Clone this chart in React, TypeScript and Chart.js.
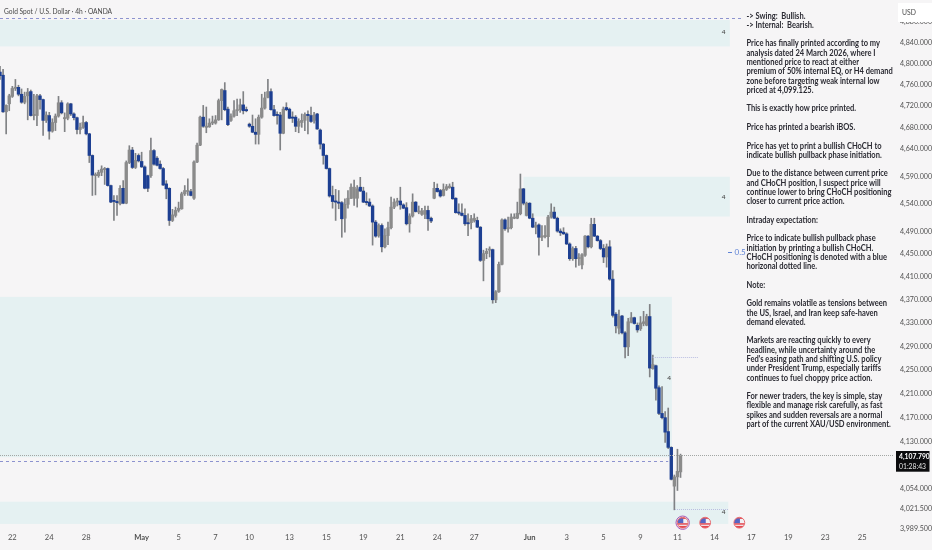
import React, { useEffect, useRef } from "react";
import { Chart, registerables } from "chart.js";

Chart.register(...registerables);

const open = [4784,4778,4709,4724,4738,4753,4755,4742,4727,4739,4747,4702,4702,4739,4732,4693,4702,4673,4689,4701,4726,4696,4697,4724,4705,4698,4676,4680,4689,4668,4628,4591,4591,4597,4602,4604,4573,4545,4544,4540,4568,4541,4615,4638,4606,4628,4617,4607,4591,4591,4637,4623,4612,4604,4576,4568,4510,4519,4528,4531,4558,4562,4562,4550,4616,4647,4699,4680,4681,4688,4688,4694,4730,4749,4714,4693,4701,4711,4713,4722,4713,4686,4682,4671,4667,4699,4716,4736,4747,4713,4703,4703,4669,4717,4714,4698,4699,4682,4689,4693,4704,4702,4693,4705,4675,4649,4628,4604,4555,4544,4543,4542,4514,4539,4550,4550,4550,4570,4563,4544,4543,4536,4507,4483,4501,4463,4483,4497,4534,4543,4545,4538,4533,4504,4518,4543,4525,4521,4521,4528,4514,4550,4568,4564,4555,4566,4569,4570,4550,4525,4523,4519,4506,4506,4510,4510,4498,4439,4451,4457,4458,4370,4384,4432,4511,4495,4497,4514,4514,4522,4567,4519,4541,4514,4498,4502,4480,4481,4481,4516,4525,4514,4491,4489,4486,4468,4442,4460,4442,4431,4448,4482,4463,4503,4482,4474,4460,4445,4463,4406,4345,4321,4342,4313,4289,4331,4339,4326,4320,4329,4326,4341,4252,4257,4220,4177,4170,4147,4121,4058,4073,4081];
const high = [4795,4789,4722,4742,4757,4770,4759,4752,4746,4753,4750,4742,4742,4742,4733,4709,4708,4696,4705,4738,4730,4707,4726,4725,4707,4699,4688,4701,4691,4669,4629,4596,4601,4609,4606,4605,4574,4555,4555,4573,4582,4618,4646,4643,4632,4631,4634,4609,4592,4660,4639,4626,4618,4606,4582,4569,4530,4534,4543,4561,4573,4585,4566,4618,4651,4701,4721,4718,4696,4701,4702,4733,4752,4764,4718,4705,4730,4733,4733,4747,4718,4688,4703,4696,4703,4742,4746,4770,4752,4721,4709,4708,4718,4726,4716,4709,4702,4696,4705,4707,4711,4718,4708,4706,4677,4650,4629,4605,4572,4566,4564,4544,4549,4564,4576,4583,4573,4588,4570,4560,4549,4538,4510,4504,4504,4495,4507,4552,4549,4550,4570,4540,4542,4522,4558,4544,4536,4532,4536,4536,4516,4579,4576,4566,4576,4575,4576,4579,4551,4540,4540,4531,4522,4519,4522,4516,4499,4457,4460,4463,4459,4386,4436,4513,4513,4516,4522,4522,4543,4594,4568,4543,4542,4522,4507,4504,4501,4501,4519,4540,4534,4516,4495,4497,4488,4470,4463,4464,4451,4451,4483,4483,4514,4514,4483,4476,4467,4468,4474,4421,4348,4352,4343,4315,4338,4348,4340,4330,4341,4350,4345,4362,4275,4258,4223,4222,4180,4186,4122,4076,4118,4110];
const low = [4770,4708,4668,4711,4736,4749,4739,4725,4724,4694,4701,4694,4683,4714,4665,4689,4658,4671,4674,4699,4705,4672,4694,4702,4694,4668,4668,4678,4666,4615,4555,4556,4588,4591,4575,4572,4542,4510,4519,4538,4540,4540,4613,4604,4604,4616,4606,4567,4562,4588,4610,4609,4603,4573,4549,4501,4508,4516,4525,4530,4555,4555,4554,4548,4615,4646,4680,4670,4680,4685,4686,4693,4694,4711,4683,4691,4699,4702,4708,4705,4709,4680,4670,4649,4649,4697,4714,4735,4712,4701,4686,4638,4668,4711,4696,4689,4672,4670,4680,4674,4668,4689,4688,4676,4640,4612,4603,4552,4532,4510,4531,4480,4489,4532,4549,4537,4534,4562,4542,4538,4535,4466,4480,4480,4454,4461,4467,4495,4531,4536,4530,4531,4502,4489,4516,4525,4522,4519,4513,4492,4506,4549,4561,4552,4554,4564,4568,4548,4523,4520,4518,4501,4483,4495,4507,4497,4437,4403,4442,4445,4364,4365,4383,4431,4492,4489,4495,4513,4513,4520,4538,4518,4513,4497,4486,4448,4474,4479,4463,4514,4513,4489,4483,4485,4467,4439,4439,4427,4430,4424,4446,4461,4461,4481,4473,4458,4435,4427,4404,4340,4313,4311,4311,4270,4274,4330,4328,4314,4317,4325,4325,4238,4251,4199,4175,4168,4129,4119,4068,4020,4051,4072];
const close = [4777,4709,4721,4739,4753,4755,4742,4727,4738,4746,4702,4703,4739,4732,4693,4703,4673,4689,4701,4726,4707,4697,4724,4705,4698,4676,4680,4689,4668,4628,4592,4593,4597,4603,4604,4573,4543,4544,4542,4568,4541,4615,4638,4606,4619,4618,4607,4568,4568,4637,4612,4610,4604,4574,4567,4510,4520,4528,4532,4558,4564,4564,4555,4616,4647,4699,4682,4682,4688,4689,4694,4730,4751,4713,4685,4701,4711,4713,4722,4711,4711,4682,4671,4667,4699,4716,4735,4747,4713,4702,4702,4669,4714,4713,4697,4697,4682,4691,4693,4704,4702,4691,4703,4677,4649,4628,4604,4554,4544,4543,4541,4513,4539,4550,4570,4570,4567,4563,4543,4542,4536,4507,4482,4501,4463,4483,4497,4534,4543,4545,4538,4532,4504,4518,4543,4526,4527,4527,4528,4513,4509,4568,4562,4554,4566,4571,4572,4549,4524,4523,4519,4504,4504,4513,4514,4498,4439,4451,4455,4458,4370,4384,4432,4511,4495,4497,4516,4516,4523,4567,4541,4541,4514,4498,4501,4480,4482,4483,4516,4525,4514,4491,4488,4486,4468,4442,4460,4442,4444,4449,4482,4463,4503,4482,4474,4460,4445,4463,4406,4343,4325,4341,4313,4289,4332,4339,4329,4318,4330,4332,4341,4253,4259,4219,4177,4170,4146,4121,4069,4073,4082,4107.79];

const slotCount = 291;
const tickIndexes = [4,16,28,46,58,70,81,94,106,118,130,142,154,172,184,196,208,220,232,244,256,268,280];
const tickNames = ["22","24","28","May","5","7","10","13","15","19","21","24","27","Jun","3","5","9","11","14","17","19","23","25"];
const priceTicks = [4880,4840,4800,4760,4720,4680,4640,4590,4540,4490,4450,4410,4370,4330,4290,4250,4210,4170,4130,4054,4021.5,3989.5];

const zoneStart = [0,170,0,0];
const zoneEnd = [237,237,218.2,236.5];
const zoneTop = [4884,4589,4375,4033];
const zoneBottom = [4833,4517,4105,3997.5];
const zoneMark = ["4","4","4","4"];
const markAt = [235,235,217.3,235];
const markPrice = [4861,4552,4236,4016];
const eventIdx = [221.7,229,240.1];

const lastPrice = 4107.79;
const countdown = "01:28:43";
const dashedPrices = [4888,4099.125];
const dashedEnd = [241,217];
const title = "Gold Spot / U.S. Dollar · 4h · OANDA";
const noteLines = [
  "-> Swing:  Bullish.","-> Internal:  Bearish.","",
  "Price has finally printed according to my","analysis dated 24 March 2026, where I","mentioned price to react at either","premium of 50% internal EQ, or H4 demand","zone before targeting weak internal low","priced at 4,099.125.","",
  "This is exactly how price printed.","",
  "Price has printed a bearish iBOS.","",
  "Price has yet to print a bullish CHoCH to","indicate bullish pullback phase initiation.","",
  "Due to the distance between current price","and CHoCH position, I suspect price will","continue lower to bring CHoCH positioning","closer to current price action.","",
  "Intraday expectation:","",
  "Price to indicate bullish pullback phase","initiation by printing a bullish CHoCH.","CHoCH positioning is denoted with a blue","horizonal dotted line.","",
  "Note:","",
  "Gold remains volatile as tensions between","the US, Israel, and Iran keep safe-haven","demand elevated.","",
  "Markets are reacting quickly to every","headline, while uncertainty around the","Fed's easing path and shifting U.S. policy","under President Trump, especially tariffs","continues to fuel choppy price action.","",
  "For newer traders, the key is simple, stay","flexible and manage risk carefully, as fast","spikes and sudden reversals are a normal","part of the current XAU/USD environment.",
];

const BLUE = "#1d3f92";
const GREY = "#8b8b8b";
const WICK = "#808285";
const BG = "#f6f5f6";
const ZONE = "#e5f1f2";
const labels = Array.from({ length: slotCount }, (_, i) => String(i));
const fmt = (v: number) => v.toLocaleString("en-US", { minimumFractionDigits: 3, maximumFractionDigits: 3 });

function squeezed(ctx: any, text: string, px: number, py: number, sx: number) {
  ctx.save();
  ctx.translate(px, py);
  ctx.scale(sx, 1);
  ctx.fillText(text, 0, 0);
  ctx.restore();
}

const zonesPlugin = {
  id: "zones",
  beforeDatasetsDraw(chart: any) {
    const { ctx, scales: { x, y } } = chart;
    ctx.save();
    ctx.fillStyle = ZONE;
    zoneStart.forEach((s, i) => {
      const l = x.getPixelForValue(s), r = x.getPixelForValue(zoneEnd[i]);
      const t = y.getPixelForValue(zoneTop[i]), b = y.getPixelForValue(zoneBottom[i]);
      ctx.fillRect(l, t, r - l, b - t);
    });
    ctx.restore();
  },
};

const overlayPlugin = {
  id: "overlay",
  afterDraw(chart: any) {
    const { ctx, scales: { x, y }, chartArea } = chart;
    ctx.save();
    // level lines
    ctx.lineWidth = 1;
    ctx.strokeStyle = "#8d93cf";
    ctx.setLineDash([3, 3]);
    dashedPrices.forEach((p, i) => {
      const py = Math.round(y.getPixelForValue(p)) + 0.5;
      ctx.beginPath(); ctx.moveTo(0, py); ctx.lineTo(x.getPixelForValue(dashedEnd[i]), py); ctx.stroke();
    });
    ctx.strokeStyle = "#a3a6a4";
    ctx.setLineDash([1, 1]);
    const ly = Math.round(y.getPixelForValue(lastPrice)) + 0.5;
    ctx.beginPath(); ctx.moveTo(0, ly); ctx.lineTo(chartArea.right, ly); ctx.stroke();
    ctx.strokeStyle = "#b9bde0";
    const cy = Math.round(y.getPixelForValue(4272)) + 0.5;
    ctx.beginPath(); ctx.moveTo(x.getPixelForValue(212), cy); ctx.lineTo(x.getPixelForValue(226.7), cy); ctx.stroke();
    const by = Math.round(y.getPixelForValue(4021.7)) + 0.5;
    ctx.beginPath(); ctx.moveTo(x.getPixelForValue(219.2), by); ctx.lineTo(x.getPixelForValue(236.5), by); ctx.stroke();
    ctx.setLineDash([]);

    // zone marks
    ctx.font = "600 6.5px Lato";
    ctx.fillStyle = "#4b4b4b";
    ctx.textAlign = "center";
    ctx.textBaseline = "middle";
    zoneMark.forEach((m, i) => ctx.fillText(m, x.getPixelForValue(markAt[i]), y.getPixelForValue(markPrice[i])));

    // 0.5 level tag
    ctx.fillStyle = "#5f83d6";
    ctx.font = "8px Lato";
    ctx.textAlign = "left";
    ctx.fillText("0.5", 734.5, 252);
    ctx.fillRect(728, 252, 4, 1);

    // title
    ctx.font = "8px Lato";
    ctx.fillStyle = "#474747";
    squeezed(ctx, title, 4, 11, 0.83);

    // note text
    ctx.font = "bold 9px Lato";
    ctx.fillStyle = "#2b2b33";
    noteLines.forEach((line, i) => {
      if (line) squeezed(ctx, line, 746.5, 15.7 + i * 9.28, 0.837);
    });

    // event markers
    eventIdx.forEach((idx, i) => {
      const px = x.getPixelForValue(idx), py = 522.7, r = 5.4;
      if (i === 0) {
        ctx.beginPath(); ctx.arc(px, py, r + 1.3, 0, Math.PI * 2);
        ctx.strokeStyle = "#a65ab8"; ctx.lineWidth = 1; ctx.stroke();
      }
      ctx.save();
      ctx.beginPath(); ctx.arc(px, py, r, 0, Math.PI * 2); ctx.clip();
      ctx.fillStyle = "#f1f0f4"; ctx.fillRect(px - r, py - r, r * 2, r * 2);
      ctx.fillStyle = "#e4484f";
      ctx.fillRect(px - r, py - r, r * 2, 1.6);
      ctx.fillRect(px - r, py + 0.5, r * 2, 1.5);
      ctx.fillRect(px - r, py + 3.2, r * 2, 2.2);
      ctx.fillStyle = "#5566c4";
      ctx.fillRect(px - r, py - r + 1.2, r + 0.6, r - 0.8);
      ctx.restore();
      ctx.beginPath(); ctx.arc(px, py, r, 0, Math.PI * 2);
      ctx.strokeStyle = "#e66a6f"; ctx.lineWidth = 1; ctx.stroke();
    });

    // USD box
    ctx.fillStyle = "#ffffff";
    ctx.fillRect(898, 3, 34, 19);
    ctx.fillStyle = "#4a4a4a";
    ctx.font = "8px Lato";
    squeezed(ctx, "USD", 902, 12, 0.85);

    // last price box
    ctx.fillStyle = "#0b0b0d";
    ctx.fillRect(896, 451, 33.5, 20.7);
    ctx.fillStyle = "#ffffff";
    ctx.font = "bold 8px Lato";
    squeezed(ctx, fmt(lastPrice), 899, 456.8, 0.85);
    ctx.font = "8px Lato";
    ctx.fillStyle = "#e8e8e8";
    squeezed(ctx, countdown, 899, 466, 0.85);
    ctx.restore();
  },
};

function noPadding(s: any) {
  s.paddingTop = 0;
  s.paddingBottom = 0;
  s.paddingLeft = 0;
  s.paddingRight = 0;
}

export default function App() {
  const ref = useRef<HTMLCanvasElement | null>(null);
  useEffect(() => {
    const isUp = open.map((o, i) => close[i] >= o);
    const chart = new Chart(ref.current as HTMLCanvasElement, {
      type: "bar",
      data: {
        labels,
        datasets: [
          {
            label: "Wick",
            data: low.map((l, i) => [l, high[i]]) as any,
            backgroundColor: WICK,
            barThickness: 1,
            grouped: false,
            order: 2,
          },
          {
            label: "Body",
            data: open.map((o, i) => [Math.min(o, close[i]), Math.max(o, close[i])]) as any,
            backgroundColor: isUp.map((u) => (u ? GREY : BLUE)),
            barThickness: 2.7,
            minBarLength: 1.2,
            grouped: false,
            order: 1,
          },
        ],
      },
      options: {
        responsive: false,
        animation: false,
        layout: { padding: 0 },
        plugins: { legend: { display: false }, tooltip: { enabled: false }, title: { display: false } },
        scales: {
          x: {
            type: "category",
            offset: false,
            grid: { display: false, drawTicks: false },
            border: { display: false },
            ticks: {
              autoSkip: false,
              maxRotation: 0,
              minRotation: 0,
              padding: 2,
              color: "#505050",
              font: (c: any) => ({
                family: "Lato",
                size: 7.6,
                weight: tickNames[tickIndexes.indexOf(c.tick?.value)]?.length === 3 ? "bold" : "normal",
              }),
              callback: (v: any) => tickNames[tickIndexes.indexOf(Number(v))] ?? "",
            },
            afterBuildTicks: (s: any) => {
              s.ticks = tickIndexes.map((value) => ({ value }));
            },
            afterFit: (s: any) => {
              s.height = 19;
              noPadding(s);
            },
          },
          y: {
            type: "logarithmic",
            position: "right",
            min: 3986.3,
            max: 4923,
            grid: { display: false, drawTicks: false },
            border: { display: false },
            ticks: {
              autoSkip: false,
              padding: 7,
              color: "#505050",
              font: { family: "Lato", size: 7.1 },
              callback: (v: any) => fmt(Number(v)),
            },
            afterBuildTicks: (s: any) => {
              s.ticks = priceTicks.map((value) => ({ value }));
            },
            afterFit: (s: any) => {
              s.width = 39;
              noPadding(s);
            },
          },
        },
      } as any,
      plugins: [zonesPlugin, overlayPlugin],
    });
    return () => chart.destroy();
  }, []);
  return (
    <div style={{ position: "fixed", left: 0, top: 0, width: 932, height: 550, background: BG, overflow: "hidden" }}>
      <canvas ref={ref} width={932} height={550} style={{ display: "block" }} />
    </div>
  );
}
